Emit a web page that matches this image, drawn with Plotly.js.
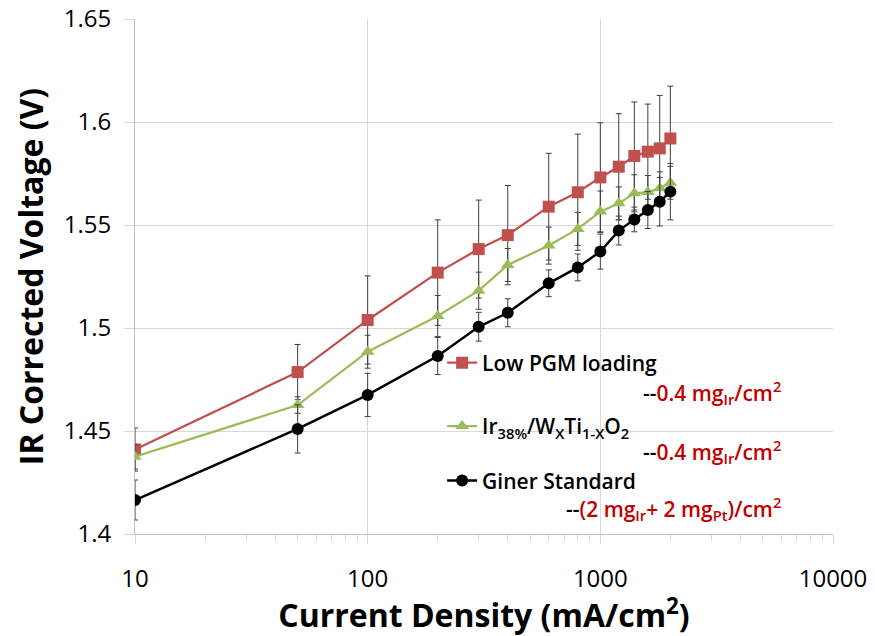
<!DOCTYPE html>
<html>
<head>
<meta charset="utf-8">
<script src="https://cdn.plot.ly/plotly-3.0.1.min.js"></script>
<style>html,body{margin:0;padding:0;background:#fff;}#chart{width:875px;height:636px;}</style>
</head>
<body>
<div id="chart"></div>
<script>
// Current density (mA/cm2)
var currentDensity = [10, 50, 100, 200, 300, 400, 600, 800, 1000, 1200, 1400, 1600, 1800, 2000];

// Low PGM loading -- 0.4 mg_Ir/cm2
var lowPgmV   = [1.441, 1.4786, 1.5039, 1.5269, 1.5383, 1.5451, 1.5589, 1.5659, 1.5731, 1.5783, 1.5835, 1.5856, 1.5872, 1.5920];
var lowPgmErr = [0.0105, 0.0134, 0.0214, 0.0256, 0.0238, 0.0241, 0.0259, 0.0282, 0.0265, 0.0257, 0.0262, 0.0231, 0.0257, 0.0254];

// Ir38%/WxTi1-xO2 -- 0.4 mg_Ir/cm2
var irWTiV    = [1.4375, 1.4626, 1.4885, 1.5058, 1.5181, 1.5306, 1.5400, 1.5481, 1.5565, 1.5605, 1.5654, 1.5660, 1.5678, 1.5705];
var irWTiErr  = [0.006, 0.004, 0.008, 0.010, 0.009, 0.008, 0.009, 0.008, 0.010, 0.008, 0.009, 0.008, 0.008, 0.008];

// Giner Standard -- (2 mg_Ir + 2 mg_Pt)/cm2
var ginerV    = [1.4165, 1.4510, 1.4675, 1.4864, 1.5006, 1.5074, 1.5217, 1.5294, 1.5371, 1.5473, 1.5527, 1.5573, 1.5613, 1.5662];
var ginerErr  = [0.0097, 0.0117, 0.0105, 0.009, 0.007, 0.0068, 0.0065, 0.0065, 0.0085, 0.007, 0.006, 0.009, 0.0118, 0.0137];

var seriesNames = ['Low PGM loading', 'Ir<sub>38%</sub>/W<sub>X</sub>Ti<sub>1-X</sub>O<sub>2</sub>', 'Giner Standard'];
var seriesLoadings = [
  '--<span style="color:#c00000">0.4 mg<sub>Ir</sub>/cm<sup>2</sup></span>',
  '--<span style="color:#c00000">0.4 mg<sub>Ir</sub>/cm<sup>2</sup></span>',
  '--<span style="color:#c00000">(2 mg<sub>Ir</sub>+ 2 mg<sub>Pt</sub>)/cm<sup>2</sup></span>'
];

var xTickVals = [10, 100, 1000, 10000];
var xTickText = ['10', '100', '1000', '10000'];
var xMinorTickVals = [20, 30, 40, 50, 60, 70, 80, 90,
                      200, 300, 400, 500, 600, 700, 800, 900,
                      2000, 3000, 4000, 5000, 6000, 7000, 8000, 9000];
var yTickVals = [1.4, 1.45, 1.5, 1.55, 1.6, 1.65];
var yTickText = ['1.4', '1.45', '1.5', '1.55', '1.6', '1.65'];

var FONT = 'Open Sans, Noto Sans, sans-serif';
var errStyle = function(arr){ return {type:'data', array:arr, visible:true, color:'#3f3f3f', thickness:1, width:3}; };

var traces = [
  {x: currentDensity, y: lowPgmV, error_y: errStyle(lowPgmErr), name: seriesNames[0], mode:'lines+markers',
   line:{color:'#c0504d', width:2.25}, marker:{symbol:'square', size:12, color:'#c0504d'}, legend:'legend'},
  {x: currentDensity, y: irWTiV, error_y: errStyle(irWTiErr), name: seriesNames[1], mode:'lines+markers',
   line:{color:'#9bbb59', width:2.25}, marker:{symbol:'triangle-up', size:12, color:'#9bbb59'}, legend:'legend2'},
  {x: currentDensity, y: ginerV, error_y: errStyle(ginerErr), name: seriesNames[2], mode:'lines+markers',
   line:{color:'#000000', width:2.5}, marker:{symbol:'circle', size:12, color:'#000000'}, legend:'legend3'}
];

var legendBase = function(yc){
  return {x:0.44, xanchor:'left', y:yc, yanchor:'middle', bgcolor:'rgba(0,0,0,0)', borderwidth:0,
          font:{family:FONT, size:21, color:'#000', weight:600}, itemwidth:30, tracegroupgap:0};
};

var layout = {
  width: 875, height: 636,
  margin: {l:135, r:42, t:19, b:102, pad:0},
  paper_bgcolor:'#ffffff', plot_bgcolor:'#ffffff',
  showlegend: true,
  legend: legendBase(0.332),
  legend2: legendBase(0.209),
  legend3: legendBase(0.103),
  xaxis: {
    type:'log', range:[1, 4], tickvals:xTickVals, ticktext:xTickText,
    showgrid:true, gridcolor:'#d9d9d9', gridwidth:1,
    showline:true, linecolor:'#bfbfbf', linewidth:1,
    ticks:'outside', ticklen:9, tickcolor:'#d9d9d9', ticklabelstandoff:14,
    minor:{tickmode:'array', tickvals:xMinorTickVals, ticks:'outside', ticklen:6, tickcolor:'#d9d9d9', showgrid:false},
    tickfont:{family:FONT, size:24, color:'#000'},
    title:{text:'<b>Current Density (mA/cm<sup>2</sup>)</b>', font:{family:FONT, size:32, color:'#000'}, standoff:6},
    zeroline:false
  },
  yaxis: {
    range:[1.4, 1.65], tickvals:yTickVals, ticktext:yTickText,
    showgrid:true, gridcolor:'#d9d9d9', gridwidth:1,
    showline:true, linecolor:'#bfbfbf', linewidth:1,
    ticks:'outside', ticklen:10, tickcolor:'#d9d9d9', ticklabelstandoff:8,
    tickfont:{family:FONT, size:24, color:'#000'},
    title:{text:'<b>IR Corrected Voltage (V)</b>', font:{family:FONT, size:32, color:'#000'}, standoff:10},
    zeroline:false
  },
  shapes: [
    {type:'rect', xref:'paper', yref:'paper', x0:0.437, x1:0.993, y0:0.004, y1:0.377,
     fillcolor:'#ffffff', line:{width:0}, layer:'between'}
  ],
  annotations: [
    {xref:'paper', yref:'paper', x:0.9284, y:0.2744, xanchor:'right', yanchor:'middle', showarrow:false,
     text:seriesLoadings[0], font:{family:FONT, size:21, color:'#000', weight:600}},
    {xref:'paper', yref:'paper', x:0.9284, y:0.1598, xanchor:'right', yanchor:'middle', showarrow:false,
     text:seriesLoadings[1], font:{family:FONT, size:21, color:'#000', weight:600}},
    {xref:'paper', yref:'paper', x:0.9284, y:0.0499, xanchor:'right', yanchor:'middle', showarrow:false,
     text:seriesLoadings[2], font:{family:FONT, size:21, color:'#000', weight:600}}
  ]
};

Plotly.newPlot('chart', traces, layout, {displayModeBar:false, staticPlot:true});
</script>
</body>
</html>
